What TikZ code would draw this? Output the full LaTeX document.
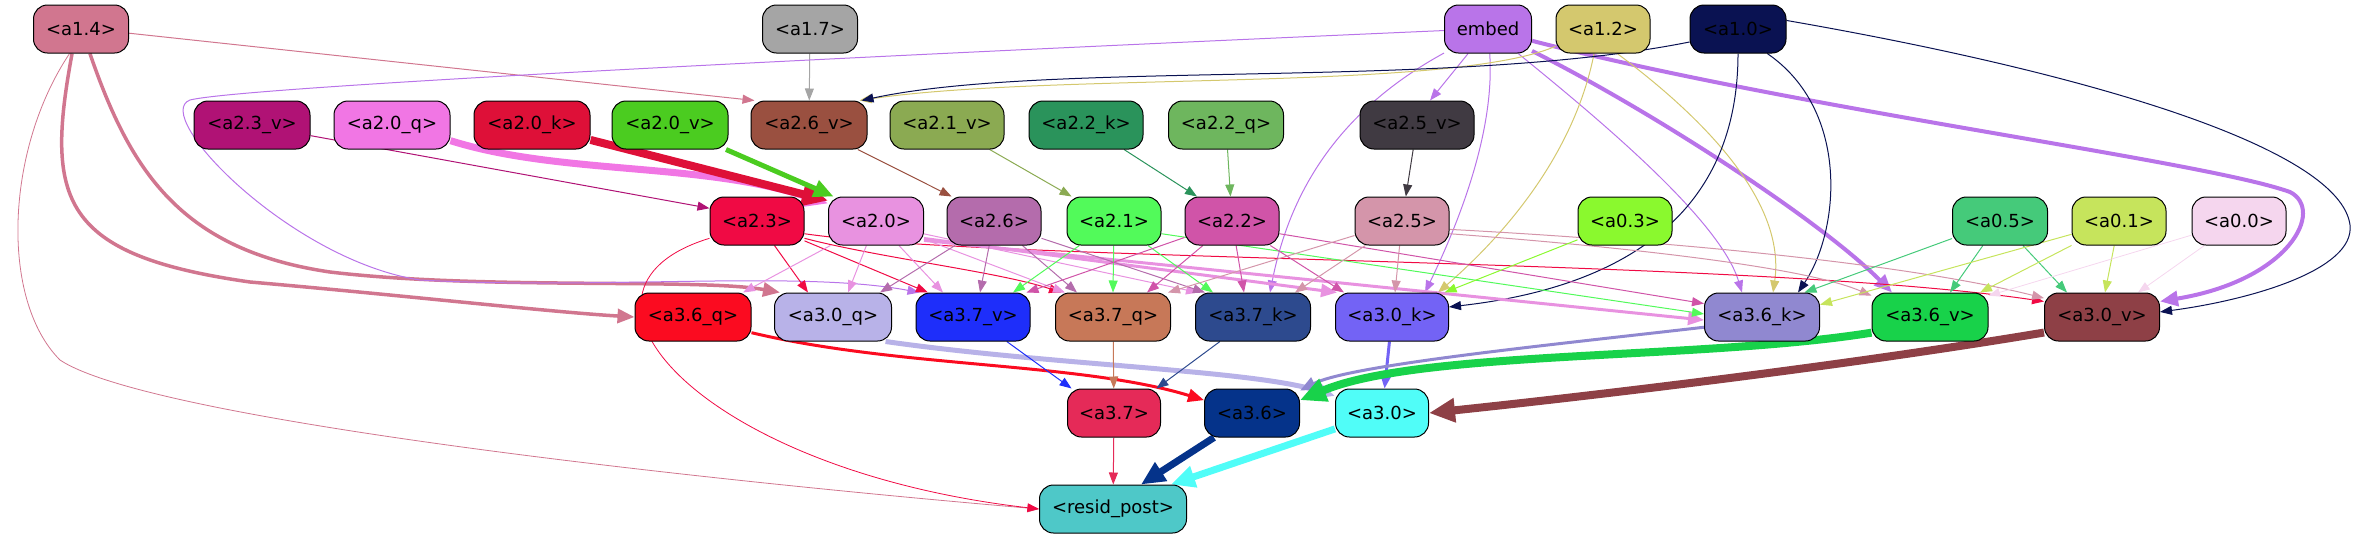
\documentclass[tikz,border=0pt]{standalone}
\usepackage{fontspec}
\setmainfont{DejaVu Sans}
\usetikzlibrary{arrows.meta,backgrounds}
\definecolor{cA14}{HTML}{D1768F}
\definecolor{cA17}{HTML}{A5A5A5}
\definecolor{cEmb}{HTML}{B974E9}
\definecolor{cA12}{HTML}{D4C86E}
\definecolor{cA10}{HTML}{0A1252}
\definecolor{cA23v}{HTML}{B01275}
\definecolor{cA20q}{HTML}{F176E4}
\definecolor{cA20k}{HTML}{DE1038}
\definecolor{cA20v}{HTML}{4BCC20}
\definecolor{cA26v}{HTML}{9A5040}
\definecolor{cA21v}{HTML}{8BAA52}
\definecolor{cA22k}{HTML}{2A935B}
\definecolor{cA22q}{HTML}{6EB65E}
\definecolor{cA25v}{HTML}{403A42}
\definecolor{cA23}{HTML}{F00A44}
\definecolor{cA20}{HTML}{E892E0}
\definecolor{cA26}{HTML}{B46CAC}
\definecolor{cA21}{HTML}{52FA5A}
\definecolor{cA22}{HTML}{D054A8}
\definecolor{cA25}{HTML}{D495AA}
\definecolor{cA03}{HTML}{8AF92E}
\definecolor{cA05}{HTML}{45CA7A}
\definecolor{cA01}{HTML}{C6E45C}
\definecolor{cA00}{HTML}{F5D6EE}
\definecolor{cA36q}{HTML}{FB0B20}
\definecolor{cA30q}{HTML}{B8B2E8}
\definecolor{cA37v}{HTML}{1E2EFA}
\definecolor{cA37q}{HTML}{C77858}
\definecolor{cA37k}{HTML}{2D4A8E}
\definecolor{cA30k}{HTML}{7363F5}
\definecolor{cA36k}{HTML}{9088D0}
\definecolor{cA36v}{HTML}{18D24A}
\definecolor{cA30v}{HTML}{8E4046}
\definecolor{cA37}{HTML}{E52A58}
\definecolor{cA36}{HTML}{05338A}
\definecolor{cA30}{HTML}{50FDF8}
\definecolor{cRes}{HTML}{4EC8C8}
\tikzset{
  nd/.style={draw=black, line width=1pt, rounded corners=14pt, minimum height=48pt, inner sep=0pt, font=\fontsize{18}{22}\selectfont},
  wd/.style={minimum width=#1pt},
  ed/.style={line width=#1pt, -{Triangle[length=10pt 2, width=7pt 2]}},
  ed/.default=1
}
\begin{document}
\begin{tikzpicture}[x=1pt,y=-1pt]
\useasboundingbox (0,0) rectangle (2355,539);
% row 1
\node[nd,wd=95,fill=cA14] (a14) at (81,29) {<a1.4>};
\node[nd,wd=95,fill=cA17] (a17) at (810,29) {<a1.7>};
\node[nd,wd=87,fill=cEmb] (emb) at (1488,29) {embed};
\node[nd,wd=94,fill=cA12] (a12) at (1603,29) {<a1.2>};
\node[nd,wd=96,fill=cA10] (a10) at (1738,29) {<a1.0>};
% row 2
\node[nd,wd=116,fill=cA23v] (a23v) at (252,125) {<a2.3\_v>};
\node[nd,wd=116,fill=cA20q] (a20q) at (392,125) {<a2.0\_q>};
\node[nd,wd=116,fill=cA20k] (a20k) at (532,125) {<a2.0\_k>};
\node[nd,wd=116,fill=cA20v] (a20v) at (670,125) {<a2.0\_v>};
\node[nd,wd=116,fill=cA26v] (a26v) at (809,125) {<a2.6\_v>};
\node[nd,wd=114,fill=cA21v] (a21v) at (947,125) {<a2.1\_v>};
\node[nd,wd=114,fill=cA22k] (a22k) at (1086,125) {<a2.2\_k>};
\node[nd,wd=115,fill=cA22q] (a22q) at (1226,125) {<a2.2\_q>};
\node[nd,wd=114,fill=cA25v] (a25v) at (1417,125) {<a2.5\_v>};
% row 3
\node[nd,wd=94,fill=cA23] (a23) at (757,221) {<a2.3>};
\node[nd,wd=95,fill=cA20] (a20) at (876,221) {<a2.0>};
\node[nd,wd=94,fill=cA26] (a26) at (994,221) {<a2.6>};
\node[nd,wd=94,fill=cA21] (a21) at (1114,221) {<a2.1>};
\node[nd,wd=94,fill=cA22] (a22) at (1232,221) {<a2.2>};
\node[nd,wd=94,fill=cA25] (a25) at (1402,221) {<a2.5>};
\node[nd,wd=94,fill=cA03] (a03) at (1625,221) {<a0.3>};
\node[nd,wd=95,fill=cA05] (a05) at (2000,221) {<a0.5>};
\node[nd,wd=94,fill=cA01] (a01) at (2119,221) {<a0.1>};
\node[nd,wd=94,fill=cA00] (a00) at (2239,221) {<a0.0>};
% row 4
\node[nd,wd=116,fill=cA36q] (a36q) at (693,317) {<a3.6\_q>};
\node[nd,wd=117,fill=cA30q] (a30q) at (833,317) {<a3.0\_q>};
\node[nd,wd=114,fill=cA37v] (a37v) at (973,317) {<a3.7\_v>};
\node[nd,wd=115,fill=cA37q] (a37q) at (1113,317) {<a3.7\_q>};
\node[nd,wd=115,fill=cA37k] (a37k) at (1253,317) {<a3.7\_k>};
\node[nd,wd=113,fill=cA30k] (a30k) at (1392,317) {<a3.0\_k>};
\node[nd,wd=115,fill=cA36k] (a36k) at (1762,317) {<a3.6\_k>};
\node[nd,wd=116,fill=cA36v] (a36v) at (1930,317) {<a3.6\_v>};
\node[nd,wd=115,fill=cA30v] (a30v) at (2102,317) {<a3.0\_v>};
% row 5
\node[nd,wd=93,fill=cA37] (a37) at (1114,413) {<a3.7>};
\node[nd,wd=95,fill=cA36] (a36) at (1252,413) {<a3.6>};
\node[nd,wd=93,fill=cA30] (a30) at (1382,413) {<a3.0>};
% row 6
\node[nd,wd=147,fill=cRes] (res) at (1113,509) {<resid\_post>};

\begin{pgfonlayer}{background}
% from row 1
\draw[ed,cA14] (a14.355) -- ([xshift=4pt]a26v.north west);
\draw[ed=3.5,cA14] (a14.250) .. controls (45,200) and (60,255) .. (250,282) .. controls (400,295) and (550,312) .. (a36q.west);
\draw[ed=3.5,cA14] (a14.290) .. controls (130,170) and (180,250) .. (330,272) .. controls (480,290) and (700,278) .. ([xshift=6pt]a30q.north west);
\draw[ed=0.8,cA14] (a14.245) .. controls (5,150) and (0,300) .. (60,360) .. controls (150,420) and (700,480) .. (res.west);
\draw[ed,cA17] (a17) -- (a26v);
\draw[ed,cEmb] (emb.182) .. controls (1000,50) and (250,85) .. (190,100) .. controls (150,115) and (290,260) .. (420,280) .. controls (600,290) and (800,270) .. ([xshift=4pt]a37v.north west);
\draw[ed,cEmb] (emb) -- ([xshift=13pt]a25v.north);
\draw[ed,cEmb] (emb) .. controls (1340,110) and (1290,190) .. ([xshift=17pt]a37k.north);
\draw[ed,cEmb] (emb) .. controls (1495,130) and (1460,220) .. ([xshift=33pt]a30k.north);
\draw[ed,cEmb] (emb) .. controls (1600,120) and (1720,220) .. ([xshift=-20pt]a36k.north);
\draw[ed=4,cEmb] (emb) .. controls (1650,110) and (1820,220) .. ([xshift=-38pt]a36v.north);
\draw[ed=4,cEmb] (emb.345) .. controls (1800,110) and (2200,160) .. (2290,192) .. controls (2325,210) and (2290,280) .. (a30v.15);
\draw[ed,cA12] (a12.200) .. controls (1450,92) and (1050,72) .. ([xshift=-8pt]a26v.north east);
\draw[ed,cA12] (a12.250) .. controls (1575,150) and (1510,230) .. ([xshift=46pt]a30k.north);
\draw[ed,cA12] (a12.300) .. controls (1720,130) and (1785,210) .. ([xshift=11pt]a36k.north);
\draw[ed,cA10] (a10.195) .. controls (1450,90) and (1050,60) .. ([xshift=-6pt]a26v.north east);
\draw[ed,cA10] (a10.270) .. controls (1738,230) and (1600,290) .. (a30k.10);
\draw[ed,cA10] (a10.320) .. controls (1850,110) and (1840,230) .. ([xshift=36pt]a36k.north);
\draw[ed,cA10] (a10.10) .. controls (2100,75) and (2340,150) .. (2350,225) .. controls (2355,270) and (2250,300) .. (a30v.5);
% row 2 to row 3
\draw[ed,cA23v] (a23v) -- (a23.165);
\draw[ed=7,cA20q] (a20q.345) .. controls (560,175) and (700,162) .. (a20.160);
\draw[ed=8,cA20k] (a20k) -- (a20.157);
\draw[ed=5,cA20v] (a20v) -- (a20.150);
\draw[ed,cA26v] (a26v) -- (a26.150);
\draw[ed,cA21v] (a21v) -- (a21.150);
\draw[ed,cA22k] (a22k) -- (a22.145);
\draw[ed,cA22q] (a22q) -- (a22);
\draw[ed,cA25v] (a25v) -- (a25);
% row 3 to row 4
\draw[ed,cA23] (a23) -- ([xshift=-25pt]a30q.north);
\draw[ed,cA23] (a23) -- ([xshift=-45pt]a37v.north);
\draw[ed,cA23] (a23.340) .. controls (880,258) and (1000,272) .. ([xshift=-52pt]a37q.north);
\draw[ed,cA23] (a23.345) .. controls (1000,262) and (1750,258) .. (a30v.165);
\draw[ed=0.8,cA23] (a23.200) .. controls (540,290) and (700,470) .. (res.west);
\draw[ed,cA20] (a20) -- ([xshift=50pt]a36q.north);
\draw[ed,cA20] (a20) -- ([xshift=15pt]a30q.north);
\draw[ed,cA20] (a20) -- ([xshift=-30pt]a37v.north);
\draw[ed,cA20] (a20) -- ([xshift=-48pt]a37q.north);
\draw[ed,cA20] (a20.345) -- ([xshift=-55pt]a37k.north);
\draw[ed=3,cA20] (a20.340) -- ([xshift=-55pt]a30k.north);
\draw[ed=3,cA20] (a20.338) -- (a36k.183);
\draw[ed,cA26] (a26) -- ([xshift=47pt]a30q.north);
\draw[ed,cA26] (a26) -- ([xshift=7pt]a37v.north);
\draw[ed,cA26] (a26) -- ([xshift=-36pt]a37q.north);
\draw[ed,cA26] (a26.340) -- ([xshift=-48pt]a37k.north);
\draw[ed,cA21] (a21) -- ([xshift=40pt]a37v.north);
\draw[ed,cA21] (a21) -- (a37q.north);
\draw[ed,cA21] (a21) -- ([xshift=-40pt]a37k.north);
\draw[ed,cA21] (a21.345) -- (a36k.177);
\draw[ed,cA22] (a22) -- ([xshift=-4pt]a37v.north east);
\draw[ed,cA22] (a22) -- ([xshift=34pt]a37q.north);
\draw[ed,cA22] (a22) -- ([xshift=-9pt]a37k.north);
\draw[ed,cA22] (a22) -- ([xshift=-48pt]a30k.north);
\draw[ed,cA22] (a22.345) -- (a36k.167);
\draw[ed,cA25] (a25) -- ([xshift=55pt]a37q.north);
\draw[ed,cA25] (a25) -- ([xshift=42pt]a37k.north);
\draw[ed,cA25] (a25) -- ([xshift=3pt]a30k.north);
\draw[ed,cA25] (a25.345) .. controls (1600,245) and (1800,265) .. (a36v.160);
\draw[ed,cA25] (a25.350) .. controls (1650,240) and (1900,262) .. (a30v.162);
\draw[ed,cA03] (a03) -- (a30k.25);
\draw[ed,cA05] (a05) -- (a36k.30);
\draw[ed,cA05] (a05) -- ([xshift=20pt]a36v.north);
\draw[ed,cA05] (a05) -- ([xshift=-35pt]a30v.north);
\draw[ed,cA01] (a01) -- (a36k.12);
\draw[ed,cA01] (a01) -- ([xshift=50pt]a36v.north);
\draw[ed,cA01] (a01) -- ([xshift=3pt]a30v.north);
\draw[ed=0.8,cA00] (a00) -- (a36v.20);
\draw[ed=0.8,cA00] (a00) -- ([xshift=36pt]a30v.north);
% row 4 to row 5
\draw[ed=3,cA36q] (a36q.345) .. controls (900,368) and (1080,362) .. (a36.165);
\draw[ed=5,cA30q] (a30q.335) .. controls (1050,365) and (1250,370) .. (a30.160);
\draw[ed,cA37v] (a37v) -- (a37.150);
\draw[ed,cA37q] (a37q) -- (a37);
\draw[ed,cA37k] (a37k) -- (a37.30);
\draw[ed=3,cA30k] (a30k) -- (a30);
\draw[ed=3,cA36k] (a36k.190) .. controls (1550,345) and (1350,365) .. (a36.25);
\draw[ed=8,cA36v] (a36v.195) .. controls (1700,360) and (1420,350) .. (a36.15);
\draw[ed=8,cA30v] (a30v.195) .. controls (1850,365) and (1600,395) .. (a30.east);
% row 5 to output
\draw[ed,cA37] (a37) -- (res);
\draw[ed=7,cA36] (a36) -- ([xshift=28pt]res.north);
\draw[ed=7,cA30] (a30) -- ([xshift=58pt]res.north);
\end{pgfonlayer}
\end{tikzpicture}
\end{document}
